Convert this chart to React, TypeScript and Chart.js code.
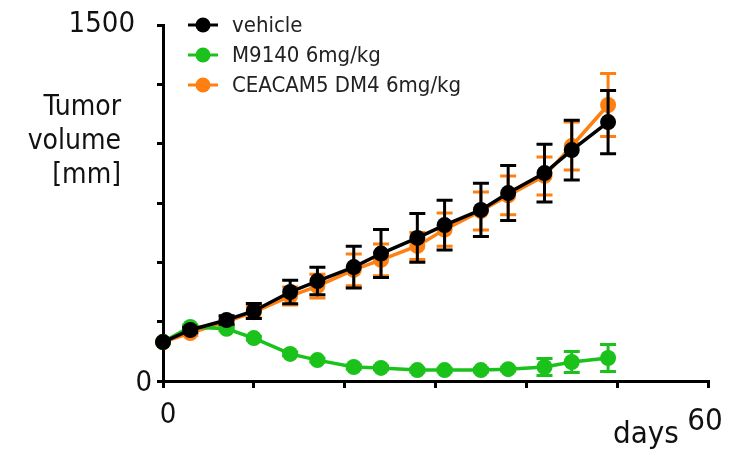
import React, { useEffect, useRef } from 'react';
import { Chart, registerables } from 'chart.js';

Chart.register(...registerables);

// ---- data ----
const days = [0, 3, 7, 10, 14, 17, 21, 24, 28, 31, 35, 38, 42, 45, 49];
const vehicle = [164, 215, 257, 295, 375, 421, 480, 537, 603, 657, 721, 792, 876, 973, 1091];
const vehicleErr = [0, 12, 18, 32, 50, 58, 88, 101, 103, 105, 112, 116, 122, 126, 133];
const m9140 = [164, 228, 220, 181, 114, 88, 59, 55, 46, 46, 46, 50, 59, 80, 97];
const m9140Err = [0, 8, 8, 8, 8, 8, 8, 8, 8, 8, 8, 8, 36, 44, 57];
const ceacam = [164, 202, 250, 290, 358, 400, 468, 510, 569, 638, 716, 782, 864, 990, 1163];
const ceacamErr = [0, 10, 15, 25, 38, 50, 67, 67, 57, 70, 80, 82, 80, 101, 133];
const seriesLabels = ['vehicle', 'M9140 6mg/kg', 'CEACAM5 DM4 6mg/kg'];
const seriesColors = ['#000000', '#1bc21b', '#ff8010'];
const yTickLabels = [0, 1500];
const xTickLabels = [0, 60];
const yTitle = ['Tumor', 'volume', '[mm]'];
const xTitle = 'days';

const FONT = "'DejaVu Sans Condensed', 'DejaVu Sans', sans-serif";

const errorBarPlugin = {
  id: 'errorBars',
  afterDatasetDraw(chart: any, args: any) {
    const ds = chart.data.datasets[args.index];
    const errs: number[] = ds.errors || [];
    const ctx = chart.ctx;
    const xs = chart.scales.x;
    const ys = chart.scales.y;
    ctx.save();
    ctx.strokeStyle = ds.borderColor;
    ctx.lineWidth = 3;
    ds.data.forEach((p: any, j: number) => {
      const e = errs[j] || 0;
      if (!e) return;
      const px = xs.getPixelForValue(p.x);
      const top = ys.getPixelForValue(p.y + e);
      const bot = ys.getPixelForValue(p.y - e);
      ctx.beginPath();
      ctx.moveTo(px, top);
      ctx.lineTo(px, bot);
      ctx.moveTo(px - 8, top);
      ctx.lineTo(px + 8, top);
      ctx.moveTo(px - 8, bot);
      ctx.lineTo(px + 8, bot);
      ctx.stroke();
    });
    ctx.restore();
  },
};

const textPlugin = {
  id: 'customTexts',
  afterDraw(chart: any) {
    const ctx = chart.ctx;
    const xs = chart.scales.x;
    const ys = chart.scales.y;
    const area = chart.chartArea;
    ctx.save();
    // legend
    chart.data.datasets.forEach((ds: any, i: number) => {
      const y = 25 + i * 30;
      ctx.strokeStyle = ds.borderColor;
      ctx.fillStyle = ds.borderColor;
      ctx.lineWidth = 3;
      ctx.beginPath();
      ctx.moveTo(188, y);
      ctx.lineTo(218, y);
      ctx.stroke();
      ctx.beginPath();
      ctx.arc(203, y, 7.5, 0, Math.PI * 2);
      ctx.fill();
      ctx.fillStyle = '#222';
      ctx.font = `22px ${FONT}`;
      ctx.textAlign = 'left';
      ctx.textBaseline = 'middle';
      ctx.fillText(ds.label, 232, y + 1);
    });
    ctx.fillStyle = '#111';
    ctx.textBaseline = 'alphabetic';
    // y tick labels
    ctx.font = `29px ${FONT}`;
    ctx.textAlign = 'right';
    yTickLabels.forEach((v) => {
      const py = ys.getPixelForValue(v);
      if (v === 0) ctx.fillText(String(v), area.left - 11, py + 10);
      else ctx.fillText(String(v), area.left - 28, py + 7);
    });
    // x tick labels
    ctx.textAlign = 'center';
    xTickLabels.forEach((v) => {
      const px = xs.getPixelForValue(v);
      if (v === 0) {
        ctx.font = `29px ${FONT}`;
        ctx.fillText(String(v), px + 5, area.bottom + 42);
      } else {
        ctx.font = `31px ${FONT}`;
        ctx.fillText(String(v), px - 3, area.bottom + 49);
      }
    });
    // x title
    ctx.font = `31px ${FONT}`;
    ctx.textAlign = 'left';
    ctx.fillText(xTitle, 613, area.bottom + 62);
    // y title
    ctx.font = `28px ${FONT}`;
    ctx.textAlign = 'right';
    yTitle.forEach((t, i) => ctx.fillText(t, 121, 115 + i * 34));
    ctx.restore();
  },
};

export default function App() {
  const ref = useRef<HTMLCanvasElement>(null);
  useEffect(() => {
    document.body.style.margin = '0';
    const mk = (i: number, values: number[], errs: number[]) => ({
      label: seriesLabels[i],
      data: days.map((d, j) => ({ x: d, y: values[j] })),
      errors: errs,
      borderColor: seriesColors[i],
      backgroundColor: seriesColors[i],
      pointBackgroundColor: seriesColors[i],
      pointBorderColor: seriesColors[i],
      borderWidth: 3.5,
      pointRadius: 8,
      pointBorderWidth: 0,
      tension: 0,
      clip: false,
    });
    const chart = new Chart(ref.current as HTMLCanvasElement, {
      type: 'line',
      data: {
        datasets: [mk(0, vehicle, vehicleErr), mk(1, m9140, m9140Err), mk(2, ceacam, ceacamErr)] as any,
      },
      options: {
        animation: false,
        responsive: false,
        devicePixelRatio: 1,
        layout: { padding: { top: 25, right: 25, left: 0, bottom: 0 } },
        plugins: { legend: { display: false }, tooltip: { enabled: false } },
        scales: {
          x: {
            type: 'linear',
            min: 0,
            max: 60,
            position: 'bottom',
            afterFit: (s: any) => { s.height = 71; },
            ticks: { stepSize: 10, autoSkip: false, callback: () => '' },
            grid: { drawOnChartArea: false, drawTicks: true, tickLength: 7, color: '#000', lineWidth: 3 },
            border: { display: true, color: '#000', width: 3 },
          },
          y: {
            type: 'linear',
            min: 0,
            max: 1500,
            afterFit: (s: any) => { s.width = 163; },
            ticks: { stepSize: 250, autoSkip: false, callback: () => '' },
            grid: { drawOnChartArea: false, drawTicks: true, tickLength: 6, color: '#000', lineWidth: 3 },
            border: { display: true, color: '#000', width: 3 },
          },
        },
      } as any,
      plugins: [errorBarPlugin, textPlugin],
    });
    return () => chart.destroy();
  }, []);
  return (
    <div style={{ position: 'fixed', left: 0, top: 0, width: 733, height: 452, background: '#fff' }}>
      <canvas ref={ref} width={733} height={452} />
    </div>
  );
}
